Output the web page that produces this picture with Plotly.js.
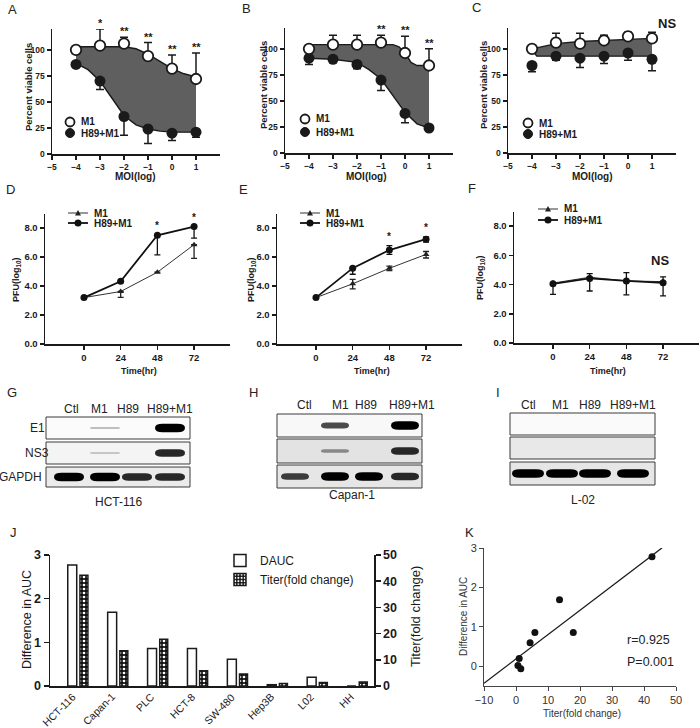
<!DOCTYPE html>
<html><head><meta charset="utf-8">
<script src="https://cdn.plot.ly/plotly-3.0.1.min.js"></script>
<style>html,body{margin:0;padding:0;background:#fff}#chart{width:700px;height:728px}</style>
</head><body><div id="chart"></div>
<script>
// ================= DATA =================
const moiLog = [-4, -3, -2, -1, 0, 1];
const moiTicks = [-5, -4, -3, -2, -1, 0, 1];
const viabTicks = [0, 25, 50, 75, 100];
// A: HCT-116 viability
const aM1 = [100, 104, 106, 94, 82, 72];
const aM1Err = [0, 16, 6, 13, 13, 25];
const aH89 = [86, 70, 36, 24, 20, 21];
const aH89Err = [0, 8, 18, 14, 7, 5];
const aSig = ['', '*', '**', '**', '**', '**'];
const aFitM1X = [-4, -3, -2, -1.5, -1, -0.5, 0, 0.5, 1];
const aFitM1Y = [103, 103, 103, 101, 96, 89, 82, 77, 74];
const aFitH89X = [-4, -3.5, -3, -2.5, -2, -1.5, -1, -0.5, 0, 0.5, 1];
const aFitH89Y = [87, 81, 70, 53, 37, 28, 24, 22, 21, 21, 21];
// B: Capan-1 viability
const bM1 = [100, 104, 104, 106, 96, 84];
const bM1Err = [0, 9, 9, 7, 16, 16];
const bH89 = [91, 90, 85, 70, 38, 24];
const bH89Err = [6, 0, 4, 10, 9, 0];
const bSig = ['', '', '', '**', '**', '**'];
const bFitM1X = [-4, -3, -2, -1, -0.5, -0.25, 0, 0.25, 0.5, 1];
const bFitM1Y = [104, 104, 104, 104, 104, 102, 96, 87, 84, 84];
const bFitH89X = [-4, -3, -2, -1.5, -1, -0.5, 0, 0.5, 1];
const bFitH89Y = [91, 90, 87, 80, 71, 55, 39, 28, 24];
// C: L-02 viability
const cM1 = [100, 106, 105, 108, 112, 110];
const cM1Err = [0, 9, 10, 5, 4, 6];
const cH89 = [84, 93, 91, 93, 96, 90];
const cH89Err = [6, 4, 9, 7, 7, 11];
const cFitM1X = [-4, -3, -2, -1, 0, 1];
const cFitM1Y = [100, 105, 107, 108, 109, 110];
const cFitH89X = [-4, -3.8, -3, -2, -1, 0, 1];
const cFitH89Y = [99, 93, 93, 93, 93, 93, 93];

// D-F: virus titer
const timeHr = [0, 24, 48, 72];
const pfuTicks = [0, 2, 4, 6, 8];
const dM1 = [3.2, 3.62, 4.95, 6.85];
const dM1ErrUp = [0, 0, 0, 0];
const dM1ErrDn = [0, 0.4, 0, 0.95];
const dH89 = [3.2, 4.33, 7.5, 8.1];
const dH89ErrUp = [0, 0, 0, 0];
const dH89ErrDn = [0, 0, 1.35, 0.8];
const dSig = ['', '', '*', '*'];
const eM1 = [3.2, 4.15, 5.22, 6.18];
const eM1ErrUp = [0, 0.3, 0.15, 0.2];
const eM1ErrDn = [0, 0.35, 0.15, 0.25];
const eH89 = [3.2, 5.23, 6.48, 7.23];
const eH89ErrUp = [0, 0, 0.3, 0.15];
const eH89ErrDn = [0, 0.42, 0.3, 0.2];
const eSig = ['', '', '*', '*'];
const fM1 = [4.1, 4.5, 4.25, 4.2];
const fH89 = [4.05, 4.42, 4.25, 4.12];
const fErrUp = [0.08, 0.33, 0.57, 0.4];
const fErrDn = [0.72, 0.86, 0.95, 0.9];

// G-I: western blot band intensities (lanes Ctl, M1, H89, H89+M1)
const laneNames = ['Ctl', 'M1', 'H89', 'H89+M1'];
const rowNames = ['E1', 'NS3', 'GAPDH'];
const gE1 = [0, 0.3, 0, 1], gNS3 = [0, 0.25, 0, 0.95], gGAPDH = [1, 1, 0.95, 0.95];
const hE1 = [0, 0.85, 0, 1], hNS3 = [0, 0.6, 0, 0.95], hGAPDH = [0.9, 1, 1, 0.95];
const iE1 = [0, 0, 0, 0], iNS3 = [0, 0, 0, 0], iGAPDH = [1, 1, 1, 1];

// J: bars
const cellLines = ['HCT-116', 'Capan-1', 'PLC', 'HCT-8', 'SW-480', 'Hep3B', 'L02', 'HH'];
const dauc = [2.77, 1.69, 0.86, 0.86, 0.61, 0.03, 0.2, 0];
const titerFold = [42.3, 13.5, 17.8, 5.8, 4.6, 1.0, 1.3, 1.5];
// K: correlation
const kTiter = [42.5, 13.6, 17.9, 5.9, 4.4, 1.0, 0.6, 1.5];
const kDauc = [2.78, 1.69, 0.86, 0.86, 0.6, 0.2, 0.02, -0.06];
const kLineX = [-10, 45.6];
const kLineY = [-0.43, 3.0];

// ================= LAYOUT HELPERS =================
const FONT = 'Liberation Sans, Arial, Helvetica, sans-serif';
const W = 700, H = 728;
const PX = v => v / W, PY = v => 1 - v / H;
const dx = (a, b) => [PX(a), PX(b)];
const dy = (top, bot) => [PY(bot), PY(top)];
const INK = '#1a1a1a';

function boldAxis(extra) {
  return Object.assign({
    showline: true, linecolor: INK, linewidth: 1.5, ticks: 'outside', ticklen: 4, tickwidth: 1.5,
    tickcolor: INK, showgrid: false, zeroline: false, fixedrange: true,
    tickfont: {family: FONT, size: 8.5, color: INK, weight: 'bold'}
  }, extra);
}

const traces = [];
const annotations = [];
const shapes = [];

function ann(text, x, y, o) {
  annotations.push(Object.assign({text, x: PX(x), y: PY(y), xref: 'paper', yref: 'paper',
    showarrow: false, xanchor: 'center', yanchor: 'middle',
    font: {family: FONT, size: 12, color: INK}}, o || {}));
}

// ---- viability panels ----
function viab(xa, ya, m1, m1e, h, he, fmx, fmy, fhx, fhy, sig) {
  const fx = fmx.concat(fhx.slice().reverse());
  const fy = fmy.concat(fhy.slice().reverse());
  traces.push({type: 'scatter', x: fx, y: fy, xaxis: xa, yaxis: ya, mode: 'lines', fill: 'toself',
    fillcolor: '#5f5f5f', line: {width: 0}, showlegend: false, hoverinfo: 'skip'});
  traces.push({type: 'scatter', x: fmx, y: fmy, xaxis: xa, yaxis: ya, mode: 'lines',
    line: {color: INK, width: 1.4}, showlegend: false});
  traces.push({type: 'scatter', x: fhx, y: fhy, xaxis: xa, yaxis: ya, mode: 'lines',
    line: {color: INK, width: 1.4}, showlegend: false});
  traces.push({type: 'scatter', x: moiLog, y: h, xaxis: xa, yaxis: ya, mode: 'markers',
    marker: {symbol: 'circle', size: 11, color: INK},
    error_y: {type: 'data', symmetric: false, array: h.map(() => 0), arrayminus: he, color: INK, thickness: 1.5, width: 4},
    showlegend: false, cliponaxis: false});
  traces.push({type: 'scatter', x: moiLog, y: m1, xaxis: xa, yaxis: ya, mode: 'markers',
    marker: {symbol: 'circle', size: 10.5, color: '#fff', line: {color: INK, width: 1.8}},
    error_y: {type: 'data', symmetric: false, array: m1e, arrayminus: m1.map(() => 0), color: INK, thickness: 1.5, width: 4},
    showlegend: false, cliponaxis: false});
  if (sig) {
    sig.forEach((s, i) => {
      if (!s) return;
      annotations.push({text: s, x: moiLog[i], y: m1[i] + m1e[i], xref: xa, yref: ya, showarrow: false,
        yanchor: 'bottom', yshift: -2, font: {family: FONT, size: 11, color: INK, weight: 'bold'}});
    });
  }
}
viab('x', 'y', aM1, aM1Err, aH89, aH89Err, aFitM1X, aFitM1Y, aFitH89X, aFitH89Y, aSig);
viab('x2', 'y2', bM1, bM1Err, bH89, bH89Err, bFitM1X, bFitM1Y, bFitH89X, bFitH89Y, bSig);
viab('x3', 'y3', cM1, cM1Err, cH89, cH89Err, cFitM1X, cFitM1Y, cFitH89X, cFitH89Y, null);

// ---- titer panels ----
function titerPanel(xa, ya, m1, m1u, m1d, h, hu, hd, sig) {
  traces.push({type: 'scatter', x: timeHr, y: m1, xaxis: xa, yaxis: ya, mode: 'lines+markers',
    line: {color: '#333', width: 1}, marker: {symbol: 'triangle-up', size: 6, color: '#222'},
    error_y: {type: 'data', symmetric: false, array: m1u, arrayminus: m1d, color: '#222', thickness: 1.3, width: 3},
    showlegend: false});
  traces.push({type: 'scatter', x: timeHr, y: h, xaxis: xa, yaxis: ya, mode: 'lines+markers',
    line: {color: '#111', width: 1.8}, marker: {symbol: 'circle', size: 7, color: '#111'},
    error_y: {type: 'data', symmetric: false, array: hu, arrayminus: hd, color: '#111', thickness: 1.3, width: 3},
    showlegend: false});
  if (sig) {
    sig.forEach((s, i) => {
      if (!s) return;
      annotations.push({text: s, x: timeHr[i], y: Math.max(h[i] + hu[i], m1[i] + m1u[i]), xref: xa, yref: ya,
        showarrow: false, yanchor: 'bottom', yshift: 2, font: {family: FONT, size: 10, color: INK, weight: 'bold'}});
    });
  }
}
titerPanel('x4', 'y4', dM1, dM1ErrUp, dM1ErrDn, dH89, dH89ErrUp, dH89ErrDn, dSig);
titerPanel('x5', 'y5', eM1, eM1ErrUp, eM1ErrDn, eH89, eH89ErrUp, eH89ErrDn, eSig);
titerPanel('x6', 'y6', fM1, fErrUp.map(() => 0), fErrDn.map(() => 0), fH89, fErrUp, fErrDn, null);

// ---- J bars ----
traces.push({type: 'bar', name: 'DAUC', x: cellLines, y: dauc, xaxis: 'x7', yaxis: 'y7',
  width: 0.225, offset: -0.255, marker: {color: '#fff', line: {color: INK, width: 1.5}}, showlegend: true});
traces.push({type: 'bar', name: 'Titer(fold change)', x: cellLines, y: titerFold, xaxis: 'x7', yaxis: 'y8',
  width: 0.2, offset: 0.05,
  marker: {color: '#111', line: {color: INK, width: 1.5},
    pattern: {shape: '.', fgcolor: '#ffffff', bgcolor: '#111111', size: 4, solidity: 0.35}},
  showlegend: true});
// category labels, rotated, ending at their category
cellLines.forEach(c => {
  annotations.push({text: c, x: c, xref: 'x7', y: PY(688), yref: 'paper', showarrow: false,
    textangle: -45, xanchor: 'right', yanchor: 'top', xshift: 2,
    font: {family: FONT, size: 10.5, color: INK}});
});

// ---- K scatter ----
traces.push({type: 'scatter', x: kLineX, y: kLineY, xaxis: 'x9', yaxis: 'y9', mode: 'lines',
  line: {color: INK, width: 1.3}, showlegend: false, cliponaxis: false});
traces.push({type: 'scatter', x: kTiter, y: kDauc, xaxis: 'x9', yaxis: 'y9', mode: 'markers',
  marker: {color: '#111', size: 7}, showlegend: false, cliponaxis: false});

// ================= ANNOTATIONS =================
[['A', 12, 10], ['B', 246, 9], ['C', 476, 8], ['D', 10, 190], ['E', 243, 190], ['F', 472, 189],
 ['G', 12, 392], ['H', 253, 392], ['I', 498, 392], ['J', 13, 532], ['K', 470, 532]]
  .forEach(p => ann(p[0], p[1], p[2], {font: {family: FONT, size: 13, color: '#222'}}));

const bold = (s) => ({family: FONT, size: s, color: INK, weight: 'bold'});
// viability titles
[[28, 87], [263, 85], [483, 85]].forEach(p => ann('Percent viable cells', p[0], p[1], {textangle: -90, font: bold(9.5)}));
[[135, 176], [367, 176], [592, 176]].forEach(p => ann('MOI(log)', p[0], p[1], {font: bold(10)}));
ann('NS', 667, 23, {font: bold(13)});
// viability legends
[[70, 122, 133], [305, 119, 132], [528, 123, 134]].forEach(p => {
  const [cx, y1, y2] = p, r = 4.5;
  shapes.push({type: 'circle', xref: 'paper', yref: 'paper', x0: PX(cx - r), x1: PX(cx + r), y0: PY(y1 + r), y1: PY(y1 - r),
    fillcolor: '#fff', line: {color: INK, width: 1.8}});
  shapes.push({type: 'circle', xref: 'paper', yref: 'paper', x0: PX(cx - r), x1: PX(cx + r), y0: PY(y2 + r), y1: PY(y2 - r),
    fillcolor: INK, line: {color: INK, width: 1}});
  ann('M1', cx + 9, y1, {xanchor: 'left', font: bold(10)});
  ann('H89+M1', cx + 9, y2, {xanchor: 'left', font: bold(10)});
});
// titer titles
[[16, 280], [251, 280], [480, 278]].forEach(p => ann('PFU(log<sub>10</sub>)', p[0], p[1], {textangle: -90, font: bold(9)}));
[[139, 371], [372, 371], [608, 371]].forEach(p => ann('Time(hr)', p[0], p[1], {font: bold(9)}));
ann('NS', 660, 260, {font: bold(13)});
// titer legends
[[68, 88, 213, 223], [300, 320, 213, 223], [538, 558, 209, 220]].forEach(p => {
  const [x0, x1, y1, y2] = p, cx = (x0 + x1) / 2;
  shapes.push({type: 'line', xref: 'paper', yref: 'paper', x0: PX(x0), x1: PX(x1), y0: PY(y1), y1: PY(y1), line: {color: '#333', width: 1}});
  shapes.push({type: 'line', xref: 'paper', yref: 'paper', x0: PX(x0), x1: PX(x1), y0: PY(y2), y1: PY(y2), line: {color: '#111', width: 1.8}});
  shapes.push({type: 'path', xref: 'paper', yref: 'paper',
    path: `M${PX(cx - 3)},${PY(y1 + 2.5)} L${PX(cx + 3)},${PY(y1 + 2.5)} L${PX(cx)},${PY(y1 - 3)} Z`, fillcolor: '#222', line: {width: 0}});
  shapes.push({type: 'circle', xref: 'paper', yref: 'paper', x0: PX(cx - 3.5), x1: PX(cx + 3.5), y0: PY(y2 + 3.5), y1: PY(y2 - 3.5),
    fillcolor: '#111', line: {width: 0}});
  ann('M1', x1 + 4, y1, {xanchor: 'left', font: bold(10)});
  ann('H89+M1', x1 + 4, y2, {xanchor: 'left', font: bold(10)});
});

// ---- western blots ----
function gray(i) { const v = Math.round(235 * Math.pow(1 - i, 0.6)); return `rgb(${v},${v},${v})`; }
function bandPath(cx, cy, hw, hh) {
  const k = Math.min(hh * 1.8, hw);
  const x0 = cx - hw, x1 = cx + hw, y0 = cy - hh, y1 = cy + hh;
  return `M${PX(x0)},${PY(cy)} Q${PX(x0)},${PY(y0)} ${PX(x0 + k)},${PY(y0)} L${PX(x1 - k)},${PY(y0)} ` +
    `Q${PX(x1)},${PY(y0)} ${PX(x1)},${PY(cy)} Q${PX(x1)},${PY(y1)} ${PX(x1 - k)},${PY(y1)} ` +
    `L${PX(x0 + k)},${PY(y1)} Q${PX(x0)},${PY(y1)} ${PX(x0)},${PY(cy)} Z`;
}
function blot(cfg, data) {
  cfg.rows.forEach((r, ri) => {
    shapes.push({type: 'rect', xref: 'paper', yref: 'paper', x0: PX(cfg.x0), x1: PX(cfg.x1), y0: PY(r[1]), y1: PY(r[0]),
      fillcolor: cfg.bg[ri], line: {color: '#3a3a3a', width: 1}});
    const cy = (r[0] + r[1]) / 2;
    data[ri].forEach((v, li) => {
      if (v <= 0) return;
      shapes.push({type: 'path', xref: 'paper', yref: 'paper', path: bandPath(cfg.lanes[li], cy, cfg.hw, 1 + 3.2 * Math.pow(v, 3)),
        fillcolor: gray(v), line: {width: 0}});
    });
  });
  cfg.labelX.forEach((x, i) => ann(laneNames[i], x, cfg.labelY, {font: {family: FONT, size: 12, color: '#222'}}));
  ann(cfg.name, cfg.nameX, cfg.nameY, {font: {family: FONT, size: 12, color: '#222'}});
}
blot({x0: 46, x1: 190, rows: [[417, 439], [442, 464], [467, 487]], lanes: [69, 105, 137, 170], hw: 15,
  bg: ['#fbfbfb', '#f4f4f4', '#ebebeb'], labelX: [71, 99, 128, 170], labelY: 409, name: 'HCT-116', nameX: 118, nameY: 502},
  [gE1, gNS3, gGAPDH]);
blot({x0: 277, x1: 422, rows: [[414, 437], [439, 463], [465, 488]], lanes: [295, 335, 369, 405], hw: 14,
  bg: ['#f8f8f8', '#e3e3e3', '#e6e6e6'], labelX: [304, 340, 366, 412], labelY: 405, name: 'Capan-1', nameX: 352, nameY: 495},
  [hE1, hNS3, hGAPDH]);
blot({x0: 510, x1: 655, rows: [[413, 435], [437, 459], [462, 485]], lanes: [528, 562, 595, 633], hw: 16,
  bg: ['#fafafa', '#e8e8e8', '#e6e6e6'], labelX: [528, 560, 590, 633], labelY: 405, name: 'L-02', nameX: 583, nameY: 500},
  [iE1, iNS3, iGAPDH]);
ann(rowNames[0], 37, 428, {font: {family: FONT, size: 12, color: '#222'}});
ann(rowNames[1], 37, 453, {font: {family: FONT, size: 12, color: '#222'}});
ann(rowNames[2], 44, 477, {xanchor: 'right', font: {family: FONT, size: 12, color: '#222'}});

// J/K titles
ann('Difference in AUC', 27, 620, {textangle: -90, font: {family: FONT, size: 12.5, color: INK}});
ann('Titer(fold change)', 415, 617, {textangle: -90, font: {family: FONT, size: 13, color: INK}});
ann('Difference in AUC', 463, 617, {textangle: -90, font: {family: FONT, size: 10, color: '#333'}});
ann('Titer(fold change)', 582, 713, {font: {family: FONT, size: 10, color: '#333'}});
ann('r=0.925', 625, 640, {xanchor: 'left', font: {family: FONT, size: 12.5, color: '#222'}});
ann('P=0.001', 625, 662, {xanchor: 'left', font: {family: FONT, size: 12.5, color: '#222'}});

// ================= AXES =================
const layout = {
  width: W, height: H, margin: {l: 0, r: 0, t: 0, b: 0}, paper_bgcolor: '#fff', plot_bgcolor: 'rgba(0,0,0,0)',
  showlegend: true, font: {family: FONT, color: INK},
  legend: {x: PX(220), y: PY(546), xanchor: 'left', yanchor: 'top', bgcolor: 'rgba(0,0,0,0)',
    font: {family: FONT, size: 12, color: INK}, tracegroupgap: 0},
  xaxis: boldAxis({domain: dx(52, 220), range: [-5, 2], tickvals: moiTicks, anchor: 'y'}),
  yaxis: boldAxis({domain: dy(29, 154), range: [0, 120], tickvals: viabTicks, anchor: 'x'}),
  xaxis2: boldAxis({domain: dx(285, 453), range: [-5, 2], tickvals: moiTicks, anchor: 'y2'}),
  yaxis2: boldAxis({domain: dy(28, 153), range: [0, 120], tickvals: viabTicks, anchor: 'x2'}),
  xaxis3: boldAxis({domain: dx(508, 676), range: [-5, 2], tickvals: moiTicks, anchor: 'y3'}),
  yaxis3: boldAxis({domain: dy(28, 153), range: [0, 120], tickvals: viabTicks, anchor: 'x3'}),
  xaxis4: boldAxis({domain: dx(45, 230), range: [-25.5, 95.5], tickvals: timeHr, anchor: 'y4', tickfont: bold(9.5)}),
  yaxis4: boldAxis({domain: dy(213.5, 344), range: [0, 9], tickvals: pfuTicks, tickformat: '.1f', anchor: 'x4', tickfont: bold(9.5)}),
  xaxis5: boldAxis({domain: dx(277, 462), range: [-25.5, 95.5], tickvals: timeHr, anchor: 'y5', tickfont: bold(9.5)}),
  yaxis5: boldAxis({domain: dy(213.5, 344), range: [0, 9], tickvals: pfuTicks, tickformat: '.1f', anchor: 'x5', tickfont: bold(9.5)}),
  xaxis6: boldAxis({domain: dx(514, 699), range: [-25.5, 95.5], tickvals: timeHr, anchor: 'y6', tickfont: bold(9.5)}),
  yaxis6: boldAxis({domain: dy(211.5, 343), range: [0, 9], tickvals: pfuTicks, tickformat: '.1f', anchor: 'x6', tickfont: bold(9.5)}),
  xaxis7: boldAxis({domain: dx(50, 374), type: 'category', range: [-0.7, 7.42], anchor: 'y7', ticks: '',
    showticklabels: false}),
  yaxis7: boldAxis({domain: dy(555, 686), range: [0, 3], tickvals: [0, 1, 2, 3], anchor: 'x7', ticklen: 5,
    tickfont: bold(12.5)}),
  yaxis8: boldAxis({overlaying: 'y7', side: 'right', range: [0, 50], tickvals: [0, 10, 20, 30, 40, 50], anchor: 'x7', ticklen: 5,
    tickfont: bold(12.5)}),
  xaxis9: {domain: dx(484, 676), range: [-10, 50], tickvals: [-10, 0, 10, 20, 30, 40, 50], anchor: 'y9',
    showline: true, linecolor: '#444', linewidth: 1, ticks: 'outside', ticklen: 4, tickcolor: '#444', showgrid: false, zeroline: false,
    tickfont: {family: FONT, size: 11, color: '#333'}},
  yaxis9: {domain: dy(548, 686), range: [-0.5, 3], tickvals: [0, 1, 2, 3], anchor: 'x9',
    showline: true, linecolor: '#444', linewidth: 1, ticks: 'outside', ticklen: 4, tickcolor: '#444', showgrid: false, zeroline: false,
    tickfont: {family: FONT, size: 11, color: '#333'}},
  annotations, shapes
};

Plotly.newPlot('chart', traces, layout, {staticPlot: true, displayModeBar: false});
</script>
</body></html>
